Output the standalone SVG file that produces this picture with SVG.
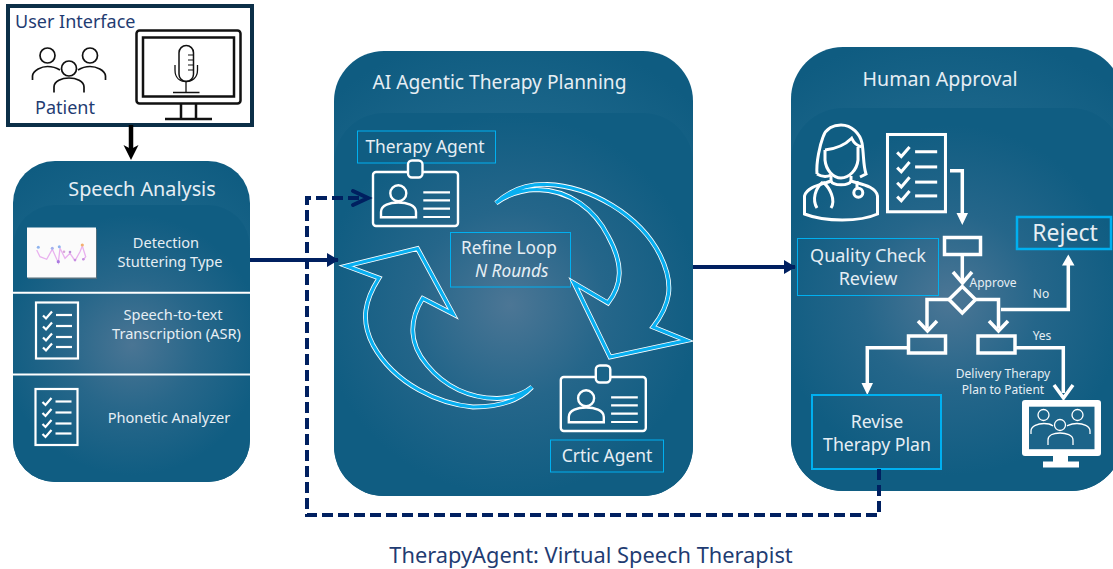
<svg xmlns="http://www.w3.org/2000/svg" xmlns:xlink="http://www.w3.org/1999/xlink" width="1113" height="569" viewBox="0 0 1113 569">
<style>
text{font-family:"Noto Sans","Open Sans","Liberation Sans",sans-serif;fill:#e6eef4}
.wl{fill:none;stroke:#fff;stroke-linecap:butt;stroke-linejoin:miter}
.cy{fill:none;stroke:#00b0f0}
.nav{fill:none;stroke:#002060;stroke-width:4}
.sw1{fill:none;stroke:#fff;stroke-width:4.800;stroke-linejoin:miter;stroke-miterlimit:10}
.sw2{fill:none;stroke:#08aff0;stroke-width:3.200;stroke-linejoin:miter;stroke-miterlimit:10}
.p{fill:none;stroke:#111;stroke-width:1.700}
</style>
<defs>
<radialGradient id="g1o" gradientUnits="userSpaceOnUse" cx="132" cy="330" r="190"><stop offset="0.6" stop-color="#1a6589"/><stop offset="1" stop-color="#0f5c81"/></radialGradient>
<radialGradient id="g2o" gradientUnits="userSpaceOnUse" cx="510" cy="300" r="270"><stop offset="0.65" stop-color="#1c668a"/><stop offset="1" stop-color="#0f5c81"/></radialGradient>
<radialGradient id="g3o" gradientUnits="userSpaceOnUse" cx="950" cy="300" r="270"><stop offset="0.65" stop-color="#1c668a"/><stop offset="1" stop-color="#0f5c81"/></radialGradient>
<radialGradient id="g1" gradientUnits="userSpaceOnUse" cx="132" cy="345" r="130"><stop offset="0" stop-color="#4a7594"/><stop offset="0.5" stop-color="#28678a"/><stop offset="1" stop-color="#105d82"/></radialGradient>
<radialGradient id="g2" gradientUnits="userSpaceOnUse" cx="510" cy="305" r="190"><stop offset="0" stop-color="#4c7695"/><stop offset="0.5" stop-color="#25668a"/><stop offset="1" stop-color="#105d82"/></radialGradient>
<radialGradient id="g3" gradientUnits="userSpaceOnUse" cx="950" cy="300" r="175"><stop offset="0" stop-color="#4c7695"/><stop offset="0.5" stop-color="#25668a"/><stop offset="1" stop-color="#105d82"/></radialGradient>
<filter id="soft" x="-10%" y="-20%" width="120%" height="140%"><feGaussianBlur stdDeviation="0.5"/></filter>
<marker id="nh" markerWidth="4" markerHeight="5" refX="2.800" refY="2.5" orient="auto"><path d="M0 0.700L3 2.500L0 4.300z" fill="#002060"/></marker>
<g id="chk"><path class="wl" stroke-width="2.2" d="M0 4L3 7L9 0"/><path class="wl" stroke-width="2.2" d="M13 3.5H29"/></g>
<g id="list">
<rect class="wl" stroke-width="2.2" x="0" y="0" width="42" height="56"/>
<use xlink:href="#chk" x="7" y="9"/><use xlink:href="#chk" x="7" y="20"/><use xlink:href="#chk" x="7" y="31"/><use xlink:href="#chk" x="7" y="41"/>
</g>
<g id="badge">
<rect class="wl" stroke-width="2.4" x="373" y="172" width="85" height="54" rx="3"/>
<rect fill="#1a6488" stroke="#fff" stroke-width="2.4" x="408" y="160.500" width="14.500" height="17" rx="4"/>
<circle class="wl" stroke-width="2.4" cx="398.300" cy="193.300" r="8"/>
<path class="wl" stroke-width="2.400" d="M381 217.300V212C381 205 390 202.500 398.300 202.500S416 205 416 212V217.300Z"/>
<path class="wl" stroke-width="2.200" d="M423.300 192.300H450M423.300 200.300H450M423.300 208.700H450M423.300 217H450"/>
</g>
<g id="people" class="p">
<circle cx="47.500" cy="55.500" r="7.500"/><circle cx="90" cy="55.500" r="7.500"/><circle cx="69" cy="68.500" r="7.500"/>
<path d="M32.500 80V76C33 70 42 66.500 47.500 66.500S56 67.500 60 70"/>
<path d="M105.500 80V76C105 70 96 66.500 90 66.500S82 67.500 78 70"/>
<path d="M54 92.500V87C54 81 62 78 69 78S84 81 84 87V92.500"/>
</g>
</defs>
<rect width="1113" height="569" fill="#fff"/>

<g id="user-interface">
<rect x="8" y="6" width="244" height="119" fill="#fff" stroke="#0c2f48" stroke-width="4"/>
<text x="15" y="28" font-size="18" style="fill:#1f3c72">User Interface</text>
<text x="35" y="114" font-size="18" style="fill:#1f3c72">Patient</text>
<use xlink:href="#people"/>
<rect x="136.500" y="30.500" width="104" height="73" rx="3" fill="none" stroke="#111" stroke-width="2.500"/>
<rect x="143" y="37.500" width="91" height="59" fill="none" stroke="#111" stroke-width="2.500"/>
<path d="M181 104V119M196 104V119" fill="none" stroke="#111" stroke-width="2.500"/>
<path d="M165 119H212" fill="none" stroke="#111" stroke-width="2.500"/>
<rect x="179" y="45.500" width="14.500" height="36" rx="7.250" fill="none" stroke="#111" stroke-width="1.500"/>
<path d="M188 55H193M188 60H193M188 65H193M188 70H193" fill="none" stroke="#111" stroke-width="1.200"/>
<path d="M175 65V70C175 78 180 81.500 186 81.500S197.500 78 197.500 70V65M186 81.500V92.500M173 92.500H199.500" fill="none" stroke="#111" stroke-width="1.300"/>
</g>

<g id="speech-analysis">
<rect x="13" y="161" width="237" height="321" rx="42" fill="url(#g1o)"/>
<rect x="13" y="205" width="237" height="277" rx="42" fill="url(#g1)"/>
<text x="142" y="196" font-size="19.800" text-anchor="middle">Speech Analysis</text>
<rect x="28" y="229" width="69" height="50" fill="#777" opacity="0.6" filter="url(#soft)"/>
<rect x="27" y="227.500" width="69" height="50" fill="#fbfbfb"/>
<g filter="url(#soft)">
<path d="M36.700 250L40 256.700L46.700 259.300L52.300 249.300L58.300 262.700L60 248.300L65 258.300L70 253.300L75 260.700L80 251.700L82.300 246L85.700 256.700L83.300 260" fill="none" stroke="#e9b2ef" stroke-width="1.300"/>
<circle cx="38.300" cy="247.300" r="1.500" fill="#8fb4ee"/><circle cx="52.300" cy="248.300" r="1.500" fill="#a4b0ee"/><circle cx="59.300" cy="246.700" r="1.500" fill="#8fb4ee"/><circle cx="64" cy="251.700" r="1.300" fill="#d8a6d8"/><circle cx="70" cy="252" r="1.300" fill="#b88fd8"/><circle cx="58.300" cy="261.700" r="1.600" fill="#a97ae0"/><circle cx="75" cy="260" r="1.300" fill="#c58fe0"/><circle cx="82.300" cy="245" r="1.600" fill="#f2b070"/><circle cx="83.300" cy="259.300" r="1.300" fill="#c58fe0"/>
</g>
<path d="M13 292.700H250M13 374.500H250" stroke="#fff" stroke-width="2"/>
<text font-size="14.600" text-anchor="middle"><tspan x="166" y="248">Detection</tspan><tspan x="170" y="267">Stuttering Type</tspan></text>
<text font-size="14.600" text-anchor="middle"><tspan x="173" y="320">Speech-to-text</tspan><tspan x="176.500" y="339">Transcription (ASR)</tspan></text>
<text x="169" y="423" font-size="14.600" text-anchor="middle">Phonetic Analyzer</text>
<use xlink:href="#list" x="36" y="302.500"/>
<use xlink:href="#list" x="35.500" y="389"/>
</g>

<g id="ai-planning">
<rect x="334" y="51" width="359" height="445" rx="50" fill="url(#g2o)"/>
<rect x="334" y="113" width="359" height="383" rx="50" fill="url(#g2)"/>
<text x="499.500" y="89" font-size="19.200" text-anchor="middle">AI Agentic Therapy Planning</text>
<g id="therapy-agent">
<rect class="cy" x="357.500" y="131" width="138" height="32"/>
<text x="425" y="153" font-size="17.400" text-anchor="middle">Therapy Agent</text>
<use xlink:href="#badge"/>
</g>
<g id="refine-loop">
<rect class="cy" x="450.500" y="232.500" width="120" height="54.500" fill="#2b6a8d" fill-opacity="0.4"/>
<text x="461" y="254" font-size="17.200">Refine Loop</text>
<text x="475" y="277" font-size="17.200" font-style="italic">N Rounds</text>
</g>
<g id="loop-arrows">
<path class="sw1" d="M496 203C510 190 528 184 547 184.500C590 186 640 215 660 255C675 285 670 305 653 327L686.500 340.500L610 357L574 283L608 303C622 285 624 265 608 236C595 210 570 190 537 189.500C522 190 508 194 496 203Z"/>
<path class="sw2" d="M496 203C510 190 528 184 547 184.500C590 186 640 215 660 255C675 285 670 305 653 327L686.500 340.500L610 357L574 283L608 303C622 285 624 265 608 236C595 210 570 190 537 189.500C522 190 508 194 496 203Z"/>
<path class="sw1" d="M532 387C518 402 498 407 473 407C440 404 395 385 373 345C360 320 365 300 379 278L346.500 266L417.500 248.500L453 314L422.700 298.300C408 322 410 345 427 365C445 387 470 398 497 398.500C510 398 522 395 532 387Z"/>
<path class="sw2" d="M532 387C518 402 498 407 473 407C440 404 395 385 373 345C360 320 365 300 379 278L346.500 266L417.500 248.500L453 314L422.700 298.300C408 322 410 345 427 365C445 387 470 398 497 398.500C510 398 522 395 532 387Z"/>
</g>
<g id="critic-agent">
<use xlink:href="#badge" transform="translate(187.800 205)"/>
<rect class="cy" x="550.500" y="440" width="113" height="32"/>
<text x="607" y="462" font-size="17.400" text-anchor="middle">Crtic Agent</text>
</g>
</g>

<g id="human-approval">
<rect x="791" y="47" width="332" height="444" rx="52" fill="url(#g3o)"/>
<rect x="791" y="108" width="332" height="383" rx="52" fill="url(#g3)"/>
<text x="940" y="86" font-size="19.600" text-anchor="middle">Human Approval</text>
<g id="doctor" class="wl" stroke-width="3">
<path d="M817 174C816 162 820 145 823 137C826 128 834 125 841 125C852 125 860 134 862 143C864 155 863 165 866 174L860 177"/>
<path d="M825 150C835 149 845 145 851.700 138.300C854 143 858 146 861.500 146.700M825 150V160C826 170 833 178 841 178C849 178 857 170 858 160V147"/>
<path d="M817 174C822 177 827 177 831 175"/>
<path d="M831 176V181C824 184 807 186 804.500 196V214C825 222 860 222 877.500 214V196C876 186 860 184 851 181V176"/>
<path d="M831 181C833 186 849 186 851 181"/>
<path d="M823 182C815 188 812 200 817 208M823 182C830 188 836 200 831 208"/>
<circle cx="858.300" cy="192.700" r="4.500"/><path d="M857 181V188"/>
</g>
<use xlink:href="#list" transform="translate(887.500 134.500) scale(1.38)"/>
<g id="flow" class="wl" stroke-width="3.500">
<path d="M950 170.700H962.300V215"/>
<rect x="944.500" y="237.500" width="36" height="17"/>
<path d="M962.300 255V282"/>
<path d="M953 272L962.500 283L972 272"/>
<path d="M962.300 286.500L975.500 299.500L962.300 313L949 299.500Z"/>
<path d="M949 299.500H927V328M975.500 299.500H998.500V328"/>
<path d="M918 321L927.500 331L937 321M989 321L998.500 331L1008 321"/>
<rect x="908.500" y="336" width="37" height="17"/>
<rect x="978" y="336" width="37" height="17"/>
<path d="M908 347.700H867.300V385"/>
<path d="M1015 347.700H1063.300V393"/>
<path d="M1054 385L1063.500 398L1073 385"/>
<path d="M1001 309.500H1068.300V263"/>
</g>
<path d="M956.500 213H968L962.300 225Z M861.500 383H873L867.300 395Z M1068.300 254.500L1074.500 265.500H1062Z" fill="#fff"/>
<g id="reject"><rect class="cy" stroke-width="2.500" x="1017" y="217" width="94" height="32" fill="#2b6a8d" fill-opacity="0.3"/><text x="1065" y="241" font-size="23" text-anchor="middle">Reject</text></g>
<g id="quality"><rect class="cy" x="797.500" y="238.500" width="141" height="57" fill="#2b6a8d" fill-opacity="0.4"/><text font-size="18" text-anchor="middle"><tspan x="868" y="262">Quality Check</tspan><tspan x="868" y="285">Review</tspan></text></g>
<g id="revise"><rect class="cy" stroke-width="2" x="812" y="395" width="129" height="74" fill="#1a5f85"/><text font-size="17.700" text-anchor="middle"><tspan x="877" y="428">Revise</tspan><tspan x="877" y="451">Therapy Plan</tspan></text></g>
<text x="993" y="287" font-size="12" text-anchor="middle">Approve</text>
<text x="1041" y="298" font-size="12" text-anchor="middle">No</text>
<text x="1042" y="340" font-size="12" text-anchor="middle">Yes</text>
<text font-size="12" text-anchor="middle"><tspan x="1003" y="378">Delivery Therapy</tspan><tspan x="1003" y="394">Plan to Patient</tspan></text>
<g id="monitor">
<rect x="1022" y="400" width="79" height="56" rx="3" fill="#fff"/>
<rect x="1029" y="406.700" width="65.500" height="42.500" fill="#1c6489"/>
<rect x="1053" y="456" width="15" height="6" fill="#fff"/>
<rect x="1043" y="461.500" width="36" height="6" fill="#fff"/>
<g fill="none" stroke="#fff" stroke-width="1.300">
<circle cx="1043.500" cy="415" r="5.500"/><circle cx="1077.500" cy="415" r="5.500"/><circle cx="1060" cy="425" r="5.500"/>
<path d="M1031 434V431C1031 426 1038 423.500 1044 423.500S1051 424.500 1053 426M1090 434V431C1090 426 1083 423.500 1077 423.500S1070 424.500 1067 426M1048 445V440C1048 435 1054 433 1060 433S1073 435 1073 440V445"/>
</g>
</g>
</g>

<g id="connectors">
<path d="M131 125V152" fill="none" stroke="#000" stroke-width="4.500"/>
<path d="M123.500 145L131 160L138.500 145L131 149Z" fill="#000"/>
<path class="nav" d="M250 260H338" marker-end="url(#nh)"/>
<path class="nav" d="M693 267H795" marker-end="url(#nh)"/>
<path class="nav" stroke-dasharray="11 5" d="M879 469V515H307V198H367"/>
<path class="nav" stroke-linecap="round" d="M353 191L368 198L353 205"/>
</g>

<text x="591" y="563" font-size="21.800" text-anchor="middle" style="fill:#1f3c72">TherapyAgent: Virtual Speech Therapist</text>
</svg>
